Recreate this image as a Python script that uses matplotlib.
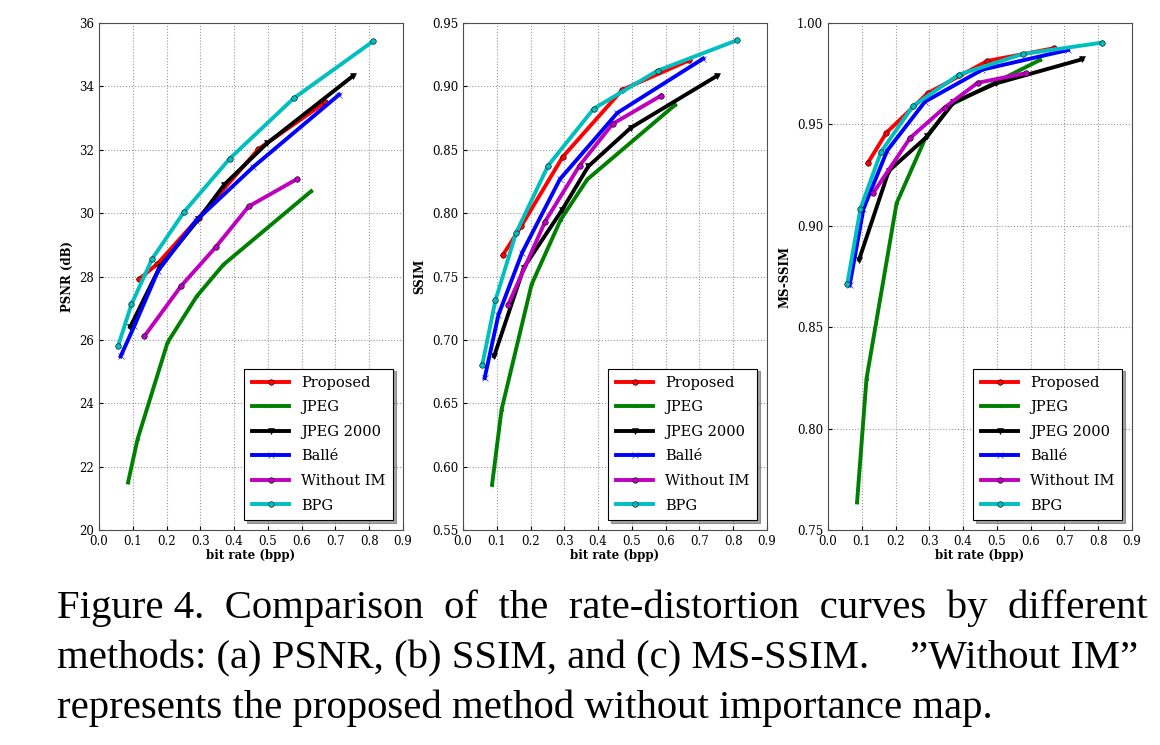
import matplotlib
matplotlib.use("Agg")
from matplotlib import pyplot as plt

# bit rate (bpp) per method
x_prop = [0.118, 0.173, 0.295, 0.472, 0.670]
x_jpeg = [0.086, 0.114, 0.203, 0.289, 0.368, 0.628]
x_j2k = [0.092, 0.180, 0.294, 0.371, 0.497, 0.752]
x_balle = [0.064, 0.105, 0.175, 0.287, 0.457, 0.711]
x_noim = [0.134, 0.243, 0.345, 0.443, 0.587]
x_bpg = [0.057, 0.096, 0.157, 0.252, 0.387, 0.576, 0.811]

# PSNR (dB)
psnr_prop = [27.91, 28.40, 29.85, 32.02, 33.50]
psnr_jpeg = [21.50, 22.86, 25.92, 27.37, 28.37, 30.69]
psnr_j2k = [26.40, 28.30, 29.80, 30.90, 32.20, 34.33]
psnr_balle = [25.48, 26.45, 28.18, 29.76, 31.46, 33.74]
psnr_noim = [26.11, 27.70, 28.92, 30.21, 31.08]
psnr_bpg = [25.82, 27.12, 28.55, 30.04, 31.72, 33.62, 35.42]

# SSIM
ssim_prop = [0.7669, 0.7900, 0.8443, 0.8974, 0.9206]
ssim_jpeg = [0.5857, 0.6448, 0.7437, 0.7947, 0.8266, 0.8854]
ssim_j2k = [0.6870, 0.7570, 0.8028, 0.8369, 0.8674, 0.9083]
ssim_balle = [0.6699, 0.7198, 0.7688, 0.8268, 0.8791, 0.9219]
ssim_noim = [0.7279, 0.7933, 0.8375, 0.8704, 0.8928]
ssim_bpg = [0.6802, 0.7312, 0.7843, 0.8375, 0.8824, 0.9124, 0.9364]

# MS-SSIM
ms_prop = [0.9310, 0.9459, 0.9654, 0.9813, 0.9876]
ms_jpeg = [0.7636, 0.8246, 0.9111, 0.9435, 0.9600, 0.9818]
ms_j2k = [0.8833, 0.9271, 0.9441, 0.9608, 0.9702, 0.9821]
ms_balle = [0.8706, 0.9084, 0.9370, 0.9612, 0.9770, 0.9867]
ms_noim = [0.9162, 0.9433, 0.9583, 0.9705, 0.9753]
ms_bpg = [0.8713, 0.9084, 0.9365, 0.9591, 0.9745, 0.9847, 0.9903]

labels = ["Proposed", "JPEG", "JPEG 2000", "Ball\u00e9", "Without IM", "BPG"]
colors = ["r", "g", "k", "b", "m", "c"]
markers = ["o", ".", "v", "x", "o", "o"]
xs = [x_prop, x_jpeg, x_j2k, x_balle, x_noim, x_bpg]

panels = [
    ([psnr_prop, psnr_jpeg, psnr_j2k, psnr_balle, psnr_noim, psnr_bpg], "PSNR (dB)", (20, 36), range(20, 37, 2), "%d"),
    ([ssim_prop, ssim_jpeg, ssim_j2k, ssim_balle, ssim_noim, ssim_bpg], "SSIM", (0.55, 0.95), [0.55 + 0.05 * i for i in range(9)], "%.2f"),
    ([ms_prop, ms_jpeg, ms_j2k, ms_balle, ms_noim, ms_bpg], "MS-SSIM", (0.75, 1.0), [0.75 + 0.05 * i for i in range(6)], "%.2f"),
]

plt.rcParams["font.family"] = "DejaVu Serif"

fig = plt.figure(figsize=(11.6, 7.45), dpi=100)
lefts = [99, 463, 828]
for (ys, ylab, ylim, yticks, fmt), left in zip(panels, lefts):
    ax = fig.add_axes([left / 1160, 1 - 530 / 745, 304 / 1160, 507 / 745])
    for x, y, lab, c, m in zip(xs, ys, labels, colors, markers):
        ax.plot(x, y, color=c, marker=m, markersize=4, linewidth=2.8, label=lab,
                markeredgecolor=c if m != "o" else "k", markeredgewidth=0.4)
    ax.set_xlim(0, 0.9)
    ax.set_ylim(*ylim)
    ax.set_xticks([0.1 * i for i in range(10)])
    ax.set_xticklabels(["%.1f" % (0.1 * i) for i in range(10)])
    ax.set_yticks(yticks)
    ax.set_yticklabels([fmt % t for t in yticks])
    ax.tick_params(labelsize=8.5, direction="in", length=3)
    ax.grid(True, linestyle=":", color="0.6", linewidth=0.8)
    ax.set_xlabel("bit rate (bpp)", fontsize=8.5, fontweight="bold", labelpad=1)
    ax.set_ylabel(ylab, fontsize=8.5, fontweight="bold", labelpad=4)
    for s in ax.spines.values():
        s.set_color("0.3")
    leg = ax.legend(loc="lower right", fontsize=10.5, handlelength=2.6,
                    fancybox=False, shadow=True, borderpad=0.5, labelspacing=0.72,
                    edgecolor="k", framealpha=1, borderaxespad=0.7)
    leg.get_frame().set_linewidth(0.8)

cap = dict(fontsize=29.3, family="Liberation Serif", va="baseline", ha="left")
fig.text(57 / 1160, 1 - 618 / 745,
         "Figure 4.  Comparison  of  the  rate-distortion  curves  by  different", **cap)
fig.text(57 / 1160, 1 - 668 / 745,
         "methods: (a) PSNR, (b) SSIM, and (c) MS-SSIM.    \u201dWithout IM\u201d", **cap)
fig.text(57 / 1160, 1 - 718 / 745,
         "represents the proposed method without importance map.", **cap)

plt.savefig("out.png", dpi=100)
